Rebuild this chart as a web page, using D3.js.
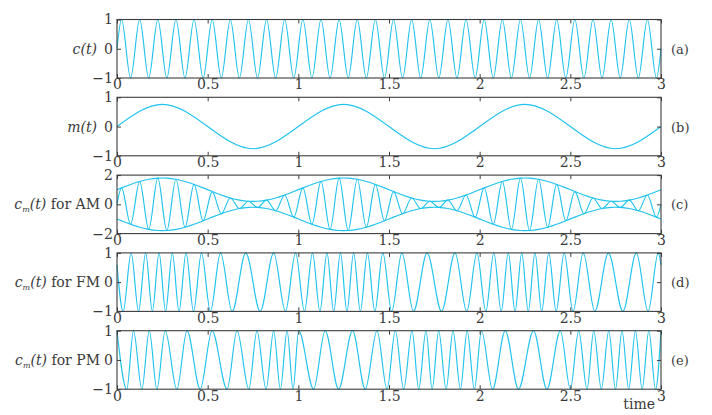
<!DOCTYPE html>
<html>
<head>
<meta charset="utf-8">
<script src="https://cdn.jsdelivr.net/npm/d3@7"></script>
<style>
  html, body { margin: 0; padding: 0; background: #fff; }
  svg { display: block; }
</style>
</head>
<body>
<svg id="chart" width="712" height="415"></svg>
<script>
// ---------------- data ----------------
const panelIds = ["(a)", "(b)", "(c)", "(d)", "(e)"];
const timeTicks = [0, 0.5, 1, 1.5, 2, 2.5, 3];
const timeTickLabels = ["0", "0.5", "1", "1.5", "2", "2.5", "3"];
const unitTicks = [-1, 0, 1];
const unitTickLabels = ["\u22121", "0", "1"];
const amTicks = [-2, 0, 2];
const amTickLabels = ["\u22122", "0", "2"];

// carrier c(t): times of turning points (and ends), values there
const carrierT = [0,
  0.025,0.075,0.125,0.175,0.225,0.275,0.325,0.375,0.425,0.475,0.525,0.575,0.625,0.675,0.725,0.775,0.825,0.875,0.925,0.975,
  1.025,1.075,1.125,1.175,1.225,1.275,1.325,1.375,1.425,1.475,1.525,1.575,1.625,1.675,1.725,1.775,1.825,1.875,1.925,1.975,
  2.025,2.075,2.125,2.175,2.225,2.275,2.325,2.375,2.425,2.475,2.525,2.575,2.625,2.675,2.725,2.775,2.825,2.875,2.925,2.975,
  3];
const carrierV = [0,
  1,-1,1,-1,1,-1,1,-1,1,-1,1,-1,1,-1,1,-1,1,-1,1,-1,
  1,-1,1,-1,1,-1,1,-1,1,-1,1,-1,1,-1,1,-1,1,-1,1,-1,
  1,-1,1,-1,1,-1,1,-1,1,-1,1,-1,1,-1,1,-1,1,-1,1,-1,
  0];

// modulating signal m(t): turning points
const messageT = [0, 0.25, 0.75, 1.25, 1.75, 2.25, 2.75, 3];
const messageV = [0, 0.76, -0.76, 0.76, -0.76, 0.76, -0.76, 0];

// AM: turning points share the carrier times; signed values
const amV = [0,
  1.125,-1.363,1.566,-1.713,1.790,-1.790,1.713,-1.566,1.363,-1.125,0.875,-0.637,0.434,-0.287,0.210,-0.210,0.287,-0.434,0.637,-0.875,
  1.125,-1.363,1.566,-1.713,1.790,-1.790,1.713,-1.566,1.363,-1.125,0.875,-0.637,0.434,-0.287,0.210,-0.210,0.287,-0.434,0.637,-0.875,
  1.125,-1.363,1.566,-1.713,1.790,-1.790,1.713,-1.566,1.363,-1.125,0.875,-0.637,0.434,-0.287,0.210,-0.210,0.287,-0.434,0.637,-0.875,
  0];
// AM envelope (upper), sampled at the carrier times
const envelopeV = [1,
  1.125,1.363,1.566,1.713,1.790,1.790,1.713,1.566,1.363,1.125,0.875,0.637,0.434,0.287,0.210,0.210,0.287,0.434,0.637,0.875,
  1.125,1.363,1.566,1.713,1.790,1.790,1.713,1.566,1.363,1.125,0.875,0.637,0.434,0.287,0.210,0.210,0.287,0.434,0.637,0.875,
  1.125,1.363,1.566,1.713,1.790,1.790,1.713,1.566,1.363,1.125,0.875,0.637,0.434,0.287,0.210,0.210,0.287,0.434,0.637,0.875,
  1];

// FM: turning points
const fmT = [0,
  0.034,0.078,0.119,0.158,0.195,0.232,0.268,0.305,0.342,0.381,0.422,0.466,0.515,0.571,0.635,0.710,0.790,0.864,0.929,0.985,
  1.034,1.078,1.119,1.158,1.195,1.232,1.268,1.305,1.342,1.381,1.422,1.466,1.515,1.571,1.635,1.710,1.790,1.864,1.929,1.985,
  2.034,2.078,2.119,2.158,2.195,2.232,2.268,2.305,2.342,2.381,2.422,2.466,2.515,2.571,2.635,2.710,2.790,2.864,2.929,2.985,
  3];
const fmV = [0.59,
  -1,1,-1,1,-1,1,-1,1,-1,1,-1,1,-1,1,-1,1,-1,1,-1,1,
  -1,1,-1,1,-1,1,-1,1,-1,1,-1,1,-1,1,-1,1,-1,1,-1,1,
  -1,1,-1,1,-1,1,-1,1,-1,1,-1,1,-1,1,-1,1,-1,1,-1,1,
  0.59];

// PM: turning points
const pmT = [0,0.054,0.091,0.137,0.178,0.22,0.266,0.33,0.386,0.459,0.524,0.607,0.662,0.727,0.772,0.822,0.864,0.901,0.938,0.971,
  1.002,1.084,1.148,1.222,1.299,1.369,1.434,1.489,1.535,1.581,1.627,1.664,1.704,1.738,1.774,1.815,1.853,1.894,1.931,1.971,
  2.01,2.071,2.141,2.214,2.297,2.371,2.445,2.5,2.546,2.592,2.629,2.671,2.712,2.749,2.785,2.822,2.859,2.896,2.933,2.97,3];
const pmV = [1,-1,1,-1,1,-1,1,-1,1,-1,1,-1,1,-1,1,-1,1,-1,1,-1,
  1,-1,1,-1,1,-1,1,-1,1,-1,1,-1,1,-1,1,-1,1,-1,1,-1,
  1,-1,1,-1,1,-1,1,-1,1,-1,1,-1,1,-1,1,-1,1,-1,1,-1,1];

// ---------------- drawing ----------------
const svg = d3.select("#chart");
const LINE = "#1fc3ee";
const FRAME = "#3c3c3c";
const TEXT = "#3a3a3a";
const FONT = "'DejaVu Serif', serif";

const x = d3.scaleLinear().domain([0, 3]).range([117, 661]);
const panelTop0 = 19.5, panelStep = 77.8, panelH = 58.5;

function zip(ts, vs) { return ts.map((t, i) => [t, vs[i]]); }

const panels = [
  { dom: [-1, 1], ticks: unitTicks, labels: unitTickLabels, series: [{ d: zip(carrierT, carrierV), c: d3.curveMonotoneX }] },
  { dom: [-1, 1], ticks: unitTicks, labels: unitTickLabels, series: [{ d: zip(messageT, messageV), c: d3.curveMonotoneX }] },
  { dom: [-2, 2], ticks: amTicks, labels: amTickLabels, series: [
      { d: zip(carrierT, amV), c: d3.curveMonotoneX },
      { d: zip(carrierT, envelopeV), c: d3.curveNatural },
      { d: zip(carrierT, envelopeV.map(v => -v)), c: d3.curveNatural } ] },
  { dom: [-1, 1], ticks: unitTicks, labels: unitTickLabels, series: [{ d: zip(fmT, fmV), c: d3.curveMonotoneX }] },
  { dom: [-1, 1], ticks: unitTicks, labels: unitTickLabels, series: [{ d: zip(pmT, pmV), c: d3.curveMonotoneX }] }
];

function styleAxis(g) {
  g.select(".domain").remove();
  g.selectAll(".tick line").attr("stroke", FRAME).attr("stroke-width", 1);
  g.selectAll("text").attr("fill", TEXT).attr("font-family", FONT).attr("font-size", 14);
  g.attr("font-family", FONT).attr("font-size", 14);
}

panels.forEach((p, i) => {
  const top = panelTop0 + i * panelStep;
  const y = d3.scaleLinear().domain(p.dom).range([top + panelH, top]);
  const g = svg.append("g");

  // curves
  p.series.forEach(s => {
    g.append("path")
      .attr("d", d3.line().x(d => x(d[0])).y(d => y(d[1])).curve(s.c)(s.d))
      .attr("fill", "none").attr("stroke", LINE).attr("stroke-width", 1.15);
  });

  // axes
  g.append("g").attr("transform", `translate(0,${top + panelH})`)
    .call(d3.axisBottom(x).tickValues(timeTicks).tickSizeInner(-4).tickSizeOuter(0)
      .tickPadding(1.5).tickFormat((d, k) => timeTickLabels[k]))
    .call(styleAxis);
  g.append("g").attr("transform", `translate(0,${top})`)
    .call(d3.axisTop(x).tickValues(timeTicks).tickSizeInner(-4).tickSizeOuter(0).tickFormat(""))
    .call(styleAxis);
  g.append("g").attr("transform", `translate(${x(0)},0)`)
    .call(d3.axisLeft(y).tickValues(p.ticks).tickSizeInner(-4).tickSizeOuter(0)
      .tickPadding(4).tickFormat((d, k) => p.labels[k]))
    .call(styleAxis);
  g.append("g").attr("transform", `translate(${x(3)},0)`)
    .call(d3.axisRight(y).tickValues(p.ticks).tickSizeInner(-4).tickSizeOuter(0).tickFormat(""))
    .call(styleAxis);

  // frame
  g.append("rect").attr("x", x(0)).attr("y", top).attr("width", x(3) - x(0)).attr("height", panelH)
    .attr("fill", "none").attr("stroke", FRAME).attr("stroke-width", 1.1);

  // panel id on the right
  g.append("text").attr("x", 671).attr("y", y(0) + 5)
    .attr("font-family", FONT).attr("font-size", 13).attr("fill", TEXT).text(panelIds[i]);

  // left label
  const lab = g.append("text").attr("y", y(0) + 5).attr("text-anchor", "end")
    .attr("font-family", FONT).attr("font-size", 14).attr("fill", TEXT);
  if (i === 0) {
    lab.attr("x", 97).append("tspan").attr("font-style", "italic").text("c(t)");
  } else if (i === 1) {
    lab.attr("x", 97).append("tspan").attr("font-style", "italic").text("m(t)");
  } else {
    const kind = ["AM", "FM", "PM"][i - 2];
    lab.attr("x", 100);
    lab.append("tspan").attr("font-style", "italic").text("c");
    lab.append("tspan").attr("font-style", "italic").attr("font-size", 8).attr("dy", 3).text("m");
    lab.append("tspan").attr("font-style", "italic").attr("dy", -3).text("(t)");
    lab.append("tspan").text(" for " + kind);
  }
});

svg.append("text").attr("x", 655).attr("y", 409).attr("text-anchor", "end")
  .attr("font-family", FONT).attr("font-size", 14).attr("fill", TEXT).text("time");
</script>
</body>
</html>
